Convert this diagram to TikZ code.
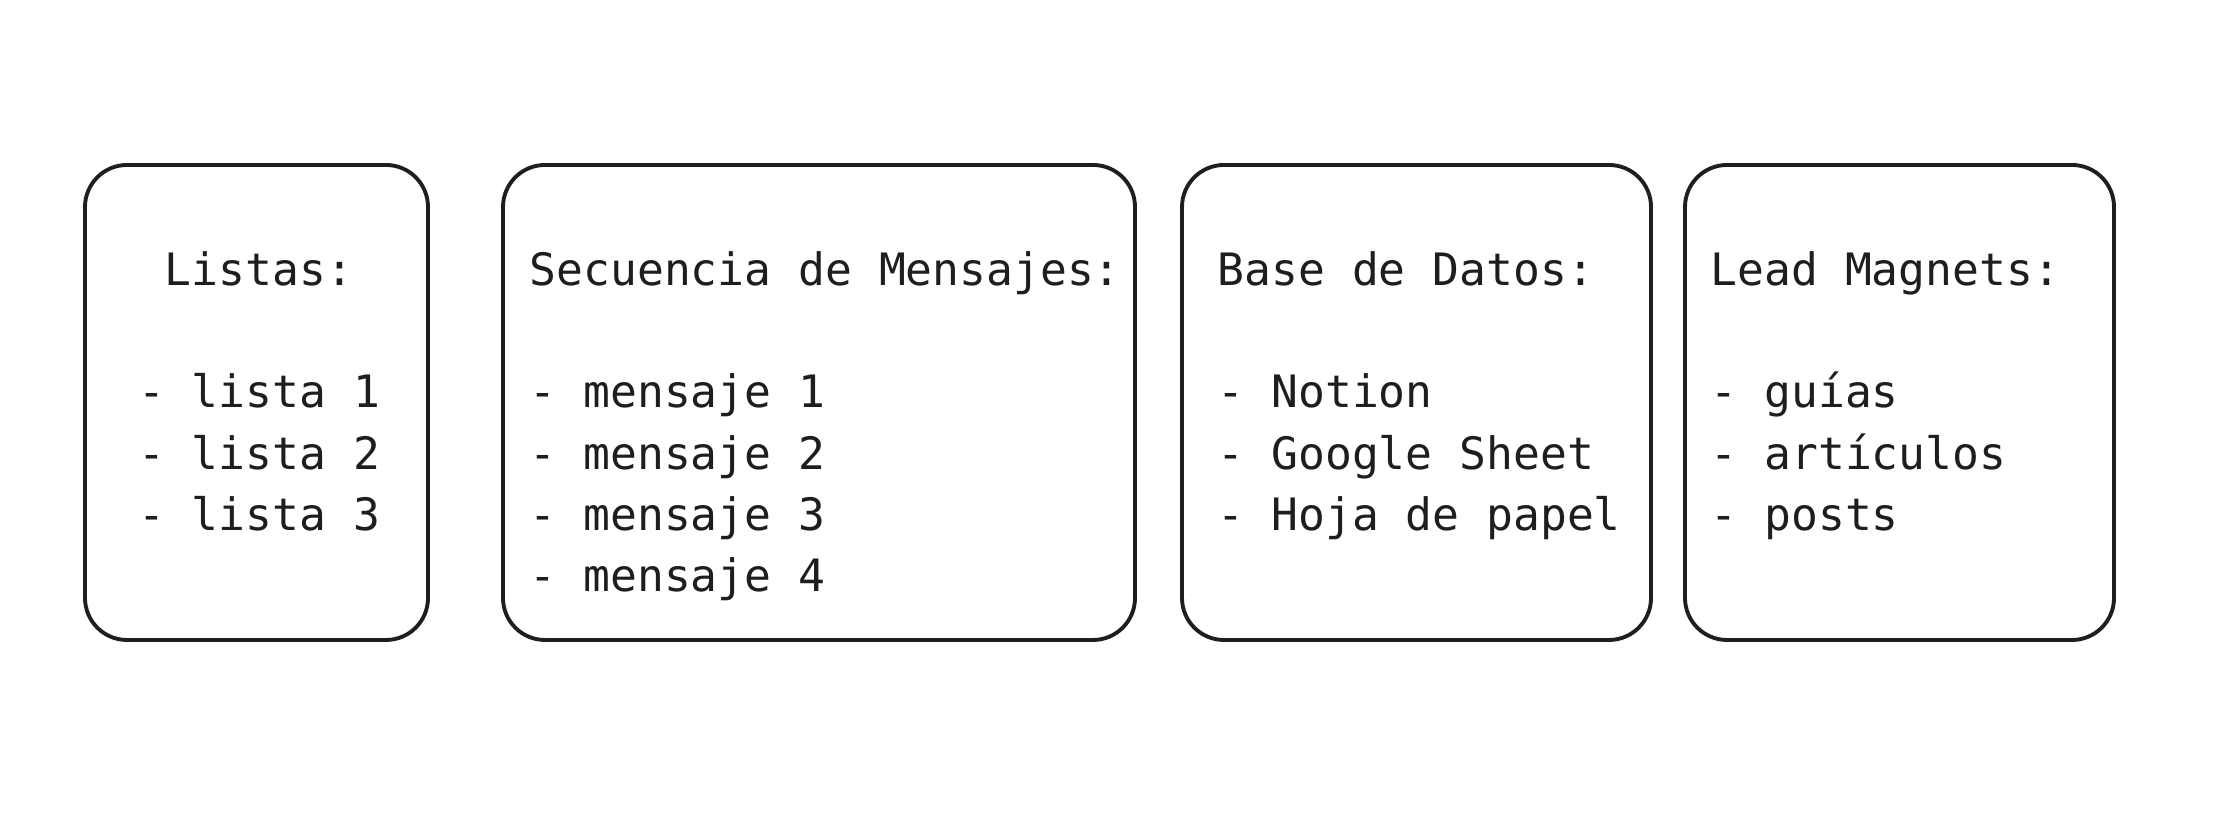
\documentclass[tikz,border=0pt]{standalone}
\usepackage{fontspec}
\setmonofont{DejaVu Sans Mono}
\definecolor{ink}{HTML}{1E1E1E}

\begin{document}
\begin{tikzpicture}[
  card/.style={draw=ink, line width=1.1pt, rounded corners=0.42cm, inner sep=0pt},
  cardtext/.style={anchor=north west, inner sep=0pt, text=ink,
    font=\ttfamily\fontsize{12.7}{17.4}\selectfont}]
  \filldraw[fill=white, draw=none] (0,0) rectangle (22.14,8.24);
  \node[card, minimum width=3.43cm, minimum height=4.75cm] (listas) at (2.565,4.215) {};
  \node[card, minimum width=6.32cm, minimum height=4.75cm] (secuencia) at (8.19,4.215) {};
  \node[card, minimum width=4.69cm, minimum height=4.75cm] (datos) at (14.165,4.215) {};
  \node[card, minimum width=4.29cm, minimum height=4.75cm] (magnets) at (18.995,4.215) {};
  \node[cardtext, anchor=north, align=center] (listasText) at (2.59,5.73)
    {Listas:\\[17.4pt]- lista 1\\- lista 2\\- lista 3};
  \node[cardtext, align=left] (secuenciaText) at (5.29,5.73)
    {Secuencia de Mensajes:\\[17.4pt]- mensaje 1\\- mensaje 2\\- mensaje 3\\- mensaje 4};
  \node[cardtext, align=left] (datosText) at (12.17,5.73)
    {Base de Datos:\\[17.4pt]- Notion\\- Google Sheet\\- Hoja de papel};
  \node[cardtext, align=left] (magnetsText) at (17.10,5.73)
    {Lead Magnets:\\[17.4pt]- guías\\- artículos\\- posts};
\end{tikzpicture}
\end{document}
